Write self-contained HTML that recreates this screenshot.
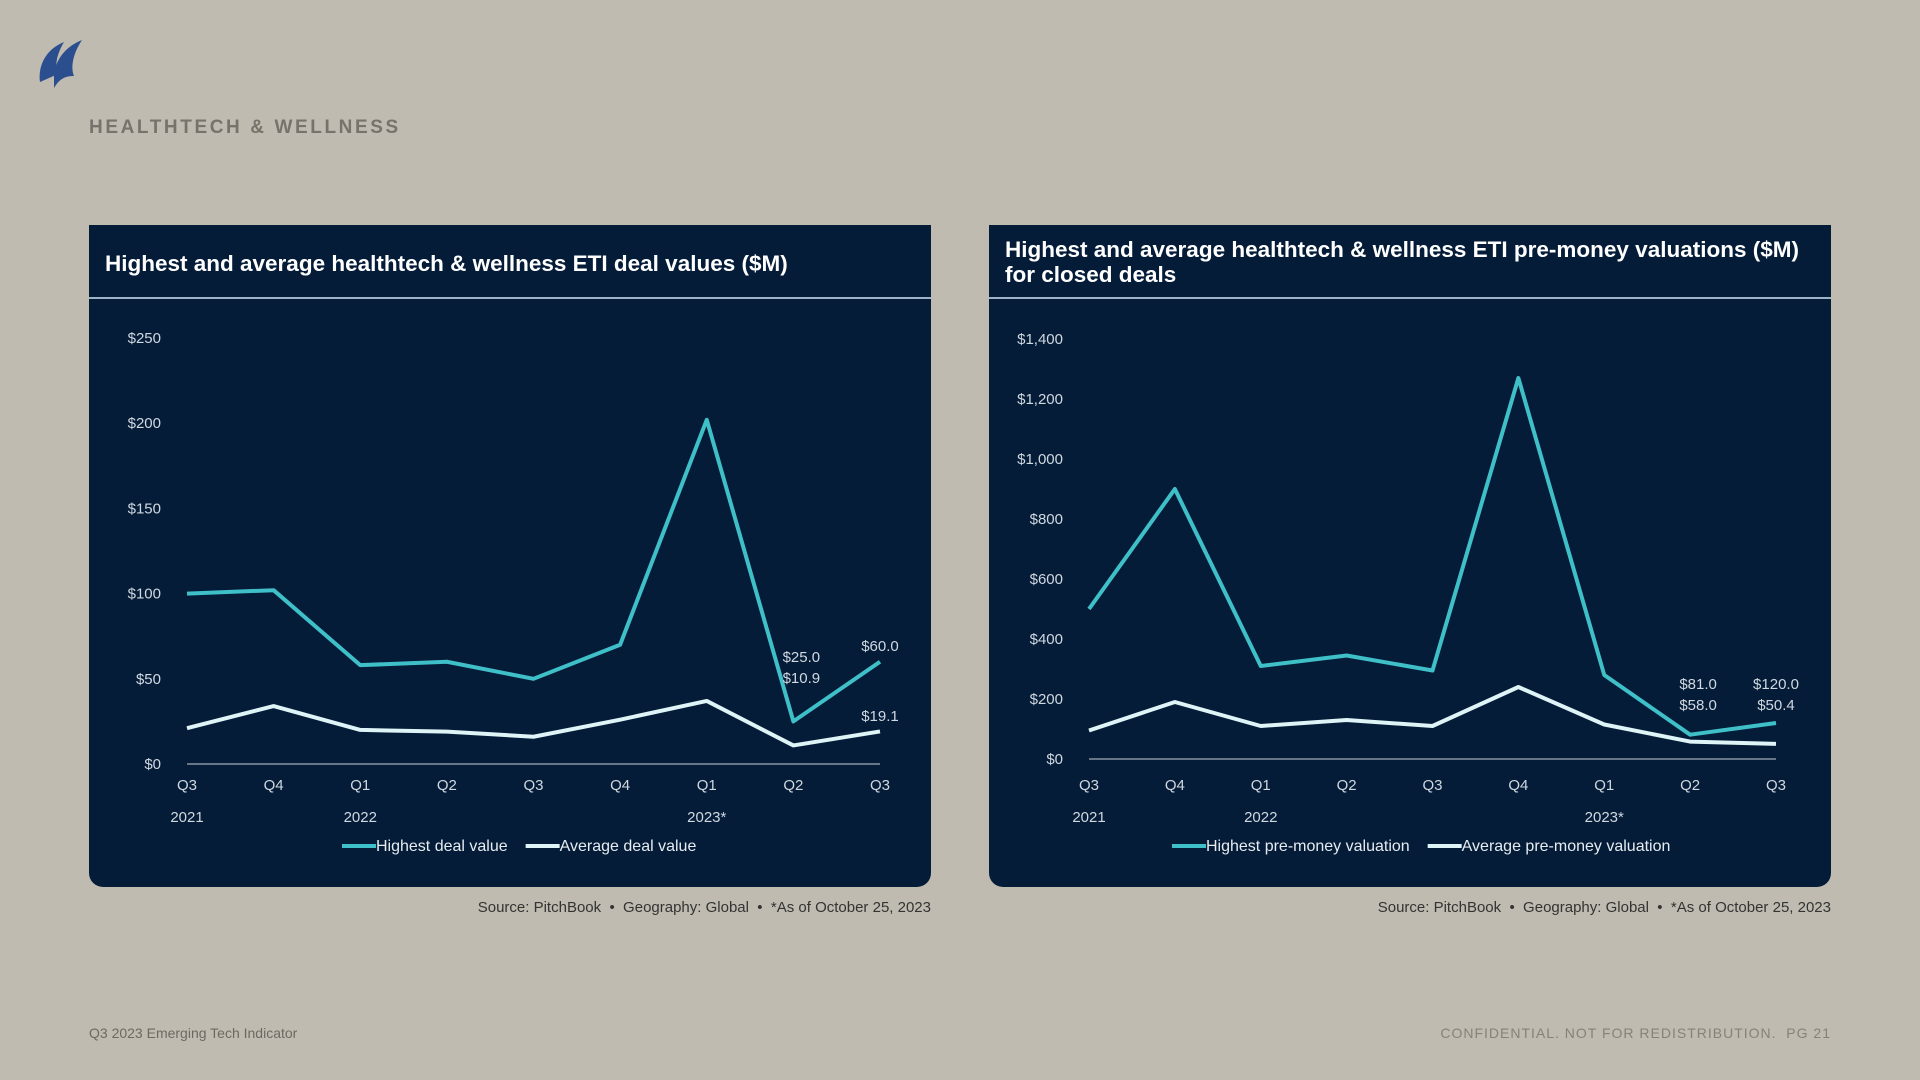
<!DOCTYPE html>
<html><head><meta charset="utf-8">
<style>
body{margin:0;width:1920px;height:1080px;background:#bfbbb0;font-family:"Liberation Sans",sans-serif;position:relative;overflow:hidden}
.abs{position:absolute}
.panel{position:absolute;top:225px;width:842px;height:662px;background:#041c38;border-radius:0 0 14px 14px}
.ptitle{position:absolute;left:16px;color:#fff;font-weight:bold;font-size:22.5px;line-height:25px}
.hline{position:absolute;left:0;right:0;top:72px;height:2px;background:#9db3c8}
.src{position:absolute;top:899px;font-size:15px;color:#333;text-align:right;width:842px;font-family:"Liberation Sans Narrow","Liberation Sans",sans-serif}
svg text{font-family:"Liberation Sans Narrow","Liberation Sans",sans-serif}
</style></head><body>
<svg class="abs" style="left:36px;top:38px" width="50" height="52" viewBox="0 0 50 52">
<path d="M4 44 C2 30 8 12 28 4 C22 14 18 26 22 36 Z" fill="#2b4e8f"/>
<path d="M18 40 C18 26 26 10 46 2 C38 14 34 28 38 38 C30 38 24 40 18 50 Z" fill="#2b4e8f"/>
</svg>
<div class="abs" style="left:89px;top:117px;font-size:19px;font-weight:bold;letter-spacing:2.6px;color:#77736c">HEALTHTECH &amp; WELLNESS</div>

<div class="panel" style="left:89px">
 <div class="ptitle" style="top:26px">Highest and average healthtech &amp; wellness ETI deal values ($M)</div>
 <div class="hline"></div>
 <svg id="c1" class="abs" style="left:0;top:0" width="842" height="662"></svg>
</div>
<div class="src" style="left:89px">Source: PitchBook &nbsp;•&nbsp; Geography: Global &nbsp;•&nbsp; *As of October 25, 2023</div>

<div class="panel" style="left:989px">
 <div class="ptitle" style="top:12px">Highest and average healthtech &amp; wellness ETI pre-money valuations ($M)<br>for closed deals</div>
 <div class="hline"></div>
 <svg id="c2" class="abs" style="left:0;top:0" width="842" height="662"></svg>
</div>
<div class="src" style="left:989px">Source: PitchBook &nbsp;•&nbsp; Geography: Global &nbsp;•&nbsp; *As of October 25, 2023</div>

<div class="abs" style="left:89px;top:1025px;font-size:14px;color:#6c6962">Q3 2023 Emerging Tech Indicator</div>
<div class="abs" style="right:89px;top:1025px;font-size:14px;color:#86827a;letter-spacing:1px">CONFIDENTIAL. NOT FOR REDISTRIBUTION. &nbsp;PG 21</div>

<script>
const quarters=["Q3","Q4","Q1","Q2","Q3","Q4","Q1","Q2","Q3"];
const years=["2021","","2022","","","","2023*","",""];
const dealHighest=[100,102,58,60,50,70,202,25,60];
const dealAverage=[21,34,20,19,16,26,37,10.9,19.1];
const dealTicks=[0,50,100,150,200,250];
const valHighest=[500,900,310,345,295,1270,280,81,120];
const valAverage=[95,190,110,130,110,240,115,58,50.4];
const valTicks=[0,200,400,600,800,1000,1200,1400];
const dealLabels=[[7,"$25.0","$10.9"],[8,"$60.0","$19.1"]];
const valLabels=[[7,"$81.0","$58.0"],[8,"$120.0","$50.4"]];
const NS="http://www.w3.org/2000/svg";
function el(svg,tag,attrs,txt){const e=document.createElementNS(NS,tag);for(const k in attrs)e.setAttribute(k,attrs[k]);if(txt!==undefined)e.textContent=txt;svg.appendChild(e);return e;}
function fmt(v){return "$"+v.toLocaleString("en-US");}
function draw(id,cfg){
 const svg=document.getElementById(id);
 const x=i=>cfg.x0+i*(cfg.x1-cfg.x0)/(quarters.length-1);
 const y=v=>cfg.y0-(v/cfg.max)*(cfg.y0-cfg.yTop);
 cfg.ticks.forEach(t=>{const e=el(svg,"text",{x:cfg.x0-26,y:y(t)+5,fill:"#d0d8e0","font-size":15,"text-anchor":"end"},fmt(t));
  
  });
 const ax=el(svg,"line",{x1:cfg.x0,x2:cfg.x1,y1:cfg.y0,y2:cfg.y0,stroke:"#c8cfd6","stroke-width":1});
 
 
 quarters.forEach((q,i)=>{const e=el(svg,"text",{x:x(i),y:cfg.y0+cfg.qOff,fill:"#d0d8e0","font-size":15,"text-anchor":"middle"},q);
  
  
  if(years[i]){const yy=el(svg,"text",{x:x(i),y:cfg.y0+cfg.qOff+32,fill:"#d0d8e0","font-size":15,"text-anchor":"middle"},years[i]);
   
   }});
 [[cfg.hi,"#3fbfc8","highest-line"],[cfg.avg,"#dff4f6","average-line"]].forEach(([d,c,n])=>{
  const p=el(svg,"polyline",{points:d.map((v,i)=>x(i)+","+y(v)).join(" "),fill:"none",stroke:c,"stroke-width":4,"stroke-linejoin":"round"});
  
  });
 cfg.labels.forEach(([i,a,b])=>{
  const sep=i===8&&cfg.sep;
  const t1=el(svg,"text",{x:x(i)+(i===8?0:8),y:sep?cfg.lblY-11:cfg.lblY,fill:"#d0d8e0","font-size":15,"text-anchor":"middle"},a);
  
  
  const t2=el(svg,"text",{x:x(i)+(i===8?0:8),y:sep?cfg.lblY+59:cfg.lblY+21,fill:"#d0d8e0","font-size":15,"text-anchor":"middle"},b);
  
  });
 let lx=cfg.legX;
 [[cfg.leg[0],"#3fbfc8"],[cfg.leg[1],"#dff4f6"]].forEach(([t,c])=>{
  const l=el(svg,"line",{x1:lx,x2:lx+34,y1:cfg.legY-5,y2:cfg.legY-5,stroke:c,"stroke-width":4});
  
  
  const tx=el(svg,"text",{x:lx+34,y:cfg.legY,fill:"#e6ecf0","font-size":16},t);
  
  
  lx+=34+tx.getComputedTextLength()+18;});
}
draw("c1",{x0:98,x1:791,y0:539,yTop:113,max:250,ticks:dealTicks,hi:dealHighest,avg:dealAverage,labels:dealLabels,lblY:437,sep:true,qOff:26,legX:253,legY:626,leg:["Highest deal value","Average deal value"]});
draw("c2",{x0:100,x1:787,y0:534,yTop:114,max:1400,ticks:valTicks,hi:valHighest,avg:valAverage,labels:valLabels,lblY:464,sep:false,qOff:31,legX:183,legY:626,leg:["Highest pre-money valuation","Average pre-money valuation"]});
</script>
</body></html>
